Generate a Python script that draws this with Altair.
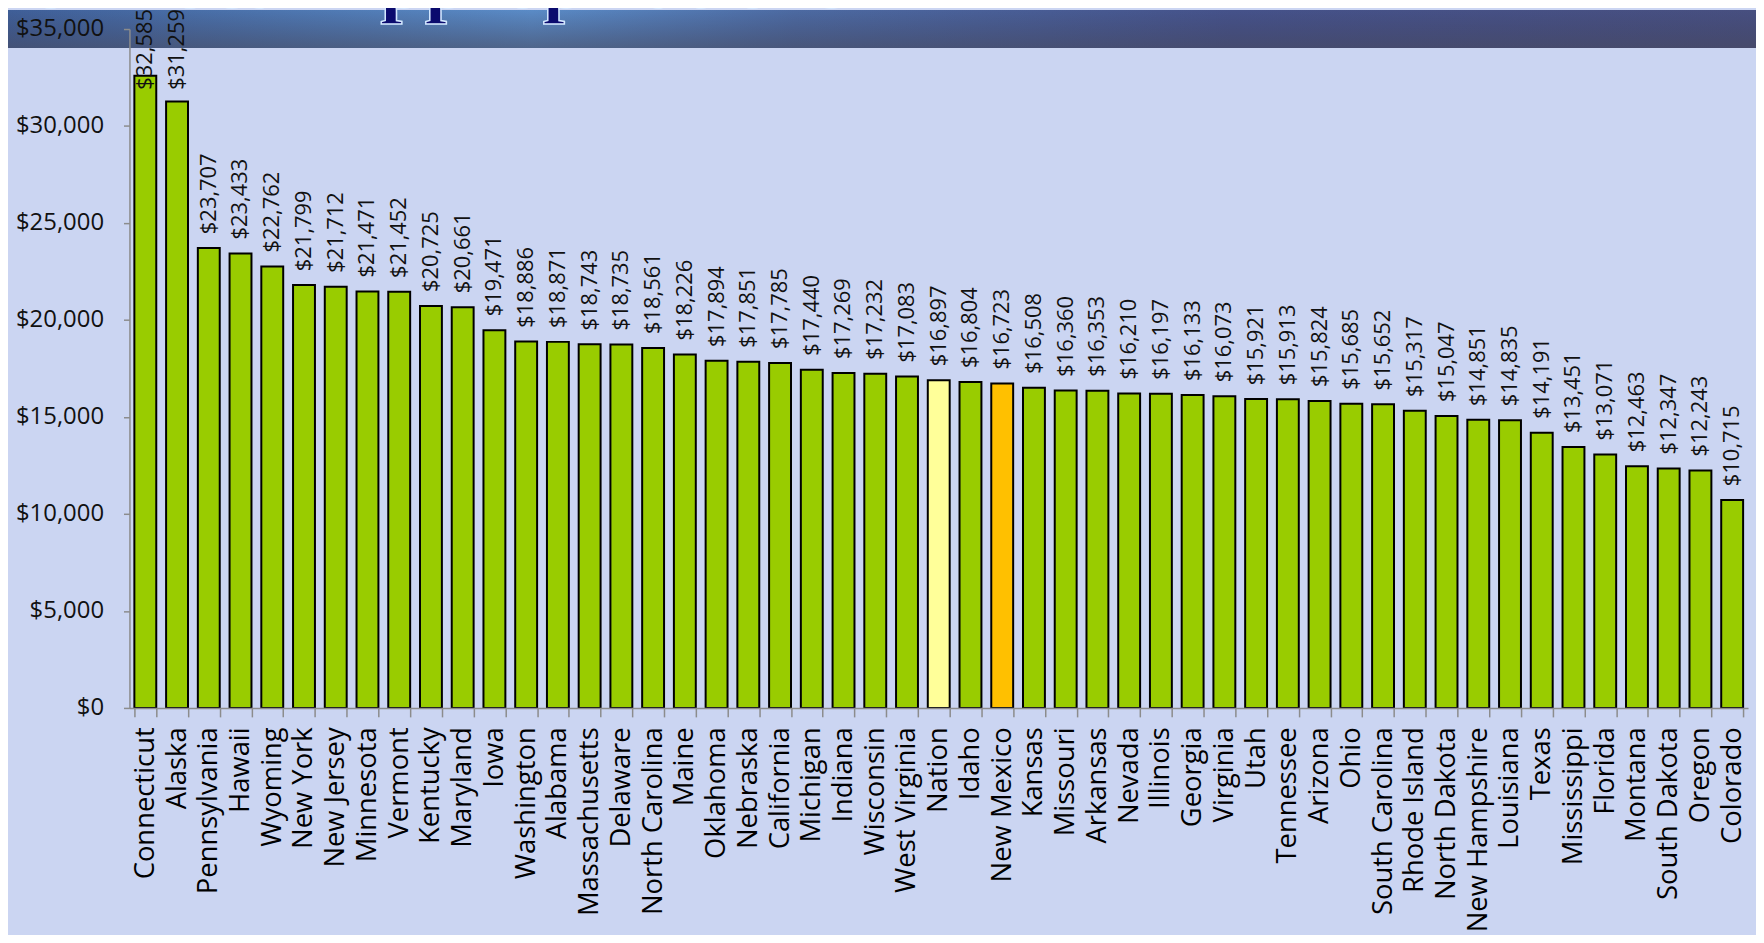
import altair as alt
import pandas as pd

states = [
    "Connecticut", "Alaska", "Pennsylvania", "Hawaii", "Wyoming", "New York",
    "New Jersey", "Minnesota", "Vermont", "Kentucky", "Maryland", "Iowa",
    "Washington", "Alabama", "Massachusetts", "Delaware", "North Carolina",
    "Maine", "Oklahoma", "Nebraska", "California", "Michigan", "Indiana",
    "Wisconsin", "West Virginia", "Nation", "Idaho", "New Mexico", "Kansas",
    "Missouri", "Arkansas", "Nevada", "Illinois", "Georgia", "Virginia",
    "Utah", "Tennessee", "Arizona", "Ohio", "South Carolina", "Rhode Island",
    "North Dakota", "New Hampshire", "Louisiana", "Texas", "Mississippi",
    "Florida", "Montana", "South Dakota", "Oregon", "Colorado",
]
values = [
    32585, 31259, 23707, 23433, 22762, 21799,
    21712, 21471, 21452, 20725, 20661, 19471,
    18886, 18871, 18743, 18735, 18561,
    18226, 17894, 17851, 17785, 17440, 17269,
    17232, 17083, 16897, 16804, 16723, 16508,
    16360, 16353, 16210, 16197, 16133, 16073,
    15921, 15913, 15824, 15685, 15652, 15317,
    15047, 14851, 14835, 14191, 13451,
    13071, 12463, 12347, 12243, 10715,
]
highlight = {"Nation": "nation", "New Mexico": "nm"}
kinds = [highlight.get(s, "state") for s in states]
y_ticks = [0, 5000, 10000, 15000, 20000, 25000, 30000, 35000]
title_text = ["of Local Appropriations"]

df = pd.DataFrame({"state": states, "value": values, "kind": kinds})

W, H = 1626, 682
FONT = "Open Sans"

x_enc = alt.X(
    "state:N",
    sort=states,
    scale=alt.Scale(paddingInner=0.31, paddingOuter=0.155),
    axis=alt.Axis(
        title=None, labelAngle=-90, labelFontSize=27.5, labelFont=FONT,
        labelColor="#000000", tickSize=9, tickColor="#8c8c8c", tickWidth=1.5,
        domainColor="#8c8c8c", domainWidth=1.5, labelPadding=10,
        labelLimit=500, tickBand="extent", zindex=1,
    ),
)
y_scale = alt.Scale(domain=[0, 35000], nice=False)

band = alt.Chart(pd.DataFrame({"k": [0]})).mark_rect(
    color=alt.LinearGradient(
        gradient="linear", x1=0, x2=1, y1=0, y2=0,
        stops=[
            alt.GradientStop(offset=0, color="#3f5f98"),
            alt.GradientStop(offset=0.3, color="#5a8bc6"),
            alt.GradientStop(offset=0.45, color="#4c6aa2"),
            alt.GradientStop(offset=0.7, color="#45528a"),
            alt.GradientStop(offset=1, color="#474f80"),
        ],
    )
).encode(x=alt.value(-122), x2=alt.value(W + 8), y=alt.value(-19), y2=alt.value(19))

shade = alt.Chart(pd.DataFrame({"k": [0]})).mark_rect(
    color=alt.LinearGradient(
        gradient="linear", x1=0, x2=0, y1=0, y2=1,
        stops=[
            alt.GradientStop(offset=0, color="rgba(60,60,90,0)"),
            alt.GradientStop(offset=1, color="rgba(70,70,90,0.55)"),
        ],
    )
).encode(x=alt.value(-122), x2=alt.value(W + 8), y=alt.value(-19), y2=alt.value(19))

title = alt.Chart(pd.DataFrame({"t": title_text})).mark_text(
    align="left", baseline="alphabetic", font="Liberation Serif",
    fontWeight="bold", fontSize=80, color="#0b0b6e",
    stroke="#d4e8ff", strokeWidth=1.5,
).encode(x=alt.value(-99), y=alt.value(-22), text="t:N")

bars = alt.Chart(df).mark_bar(stroke="#000000", strokeWidth=2).encode(
    x=x_enc,
    y=alt.Y(
        "value:Q", scale=y_scale,
        axis=alt.Axis(
            title=None, values=y_ticks, format="$,.0f", labelFontSize=24,
            labelFont=FONT, labelColor="#111111", tickSize=6,
            tickColor="#8c8c8c", tickWidth=1.5, domainColor="#8c8c8c",
            domainWidth=1.5, labelPadding=20, grid=False, zindex=1,
        ),
    ),
    color=alt.Color(
        "kind:N",
        scale=alt.Scale(domain=["state", "nation", "nm"],
                        range=["#99CC00", "#FFFF99", "#FFC000"]),
        legend=None,
    ),
)

labels = alt.Chart(df).transform_calculate(
    label_y="min(datum.value, 31150)"
).mark_text(
    angle=270, align="left", baseline="middle", dx=14,
    fontSize=22, font=FONT, color="#111111",
).encode(
    x=alt.X("state:N", sort=states),
    y=alt.Y("label_y:Q", scale=y_scale),
    text=alt.Text("value:Q", format="$,.0f"),
)

chart = alt.layer(band, shade, title, bars, labels).properties(
    width=W, height=H,
    autosize=alt.AutoSizeParams(type="none"),
    padding={"left": 122, "top": 19, "right": 8, "bottom": 226},
    background="#cbd5f2",
).configure_view(stroke=None)

chart.save("out.html", embed_options={"renderer": "svg", "actions": False})
